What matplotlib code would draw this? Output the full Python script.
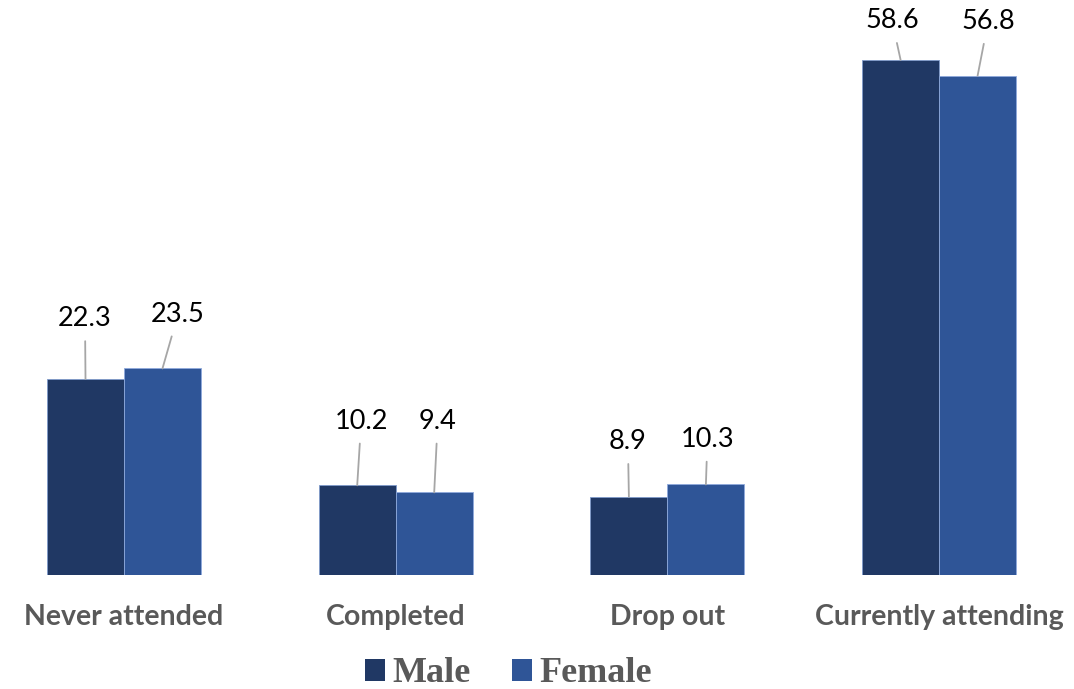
import matplotlib
matplotlib.use('Agg')
import matplotlib.pyplot as plt
from matplotlib.patches import Patch
import numpy as np

categories = ['Never attended', 'Completed', 'Drop out', 'Currently attending']
male = [22.3, 10.2, 8.9, 58.6]
female = [23.5, 9.4, 10.3, 56.8]
series_names = ['Male', 'Female']

# label offsets (pixels from bar top) - labels were dragged around in the original
male_offsets = [(-0.5, 60), (4, 64), (-1, 55), (-8.5, 39)]
female_offsets = [(15.5, 54), (3.5, 71), (1.5, 45), (10.5, 54)]

MALE_COLOR = '#203864'
FEMALE_COLOR = '#2F5597'
LINE_COLOR = '#A6A6A6'
LABEL_GRAY = '#595959'

fig = plt.figure(figsize=(10.74, 6.89), dpi=100)
ax = fig.add_axes([0, 114 / 689, 1, 527.4 / 689])

x = np.arange(len(categories))
w = 77 / 271.7
ax.bar(x - w / 2, male, w, color=MALE_COLOR, edgecolor='#7F9ACB', linewidth=0.6)
ax.bar(x + w / 2, female, w, color=FEMALE_COLOR, edgecolor='#8FAADC', linewidth=0.6)

ax.set_xlim(-124 / 271.7, (1074 - 124) / 271.7)
ax.set_ylim(0, 60)
ax.axis('off')


def add_labels(xs, vals, offsets):
    for xi, v, (dx, dy) in zip(xs, vals, offsets):
        ax.annotate(f'{v:.1f}', xy=(xi, v), xytext=(dx * 0.72, dy * 0.72),
                    textcoords='offset points', ha='center', va='center',
                    fontsize=19.5, family='Lato', color='black',
                    arrowprops=dict(arrowstyle='-', color=LINE_COLOR, lw=1.3,
                                    shrinkA=5, shrinkB=0))


add_labels(x - w / 2, male, male_offsets)
add_labels(x + w / 2, female, female_offsets)

for xi, cat in zip(x, categories):
    ax.text(xi, -50 / 527.4 * 60, cat, ha='center', va='baseline',
            fontsize=20.5, family='Lato', fontweight='bold', color=LABEL_GRAY,
            clip_on=False)

handles = [Patch(facecolor=MALE_COLOR), Patch(facecolor=FEMALE_COLOR)]
fig.legend(handles, series_names, loc='center', bbox_to_anchor=(0.4735, 15 / 689),
           ncol=2, frameon=False,
           prop={'family': 'Liberation Serif', 'weight': 'bold', 'size': 26},
           labelcolor=LABEL_GRAY, handlelength=0.55, handleheight=0.55,
           handletextpad=0.2, columnspacing=1.15, borderpad=0, borderaxespad=0)

fig.savefig('out.png', dpi=100)
